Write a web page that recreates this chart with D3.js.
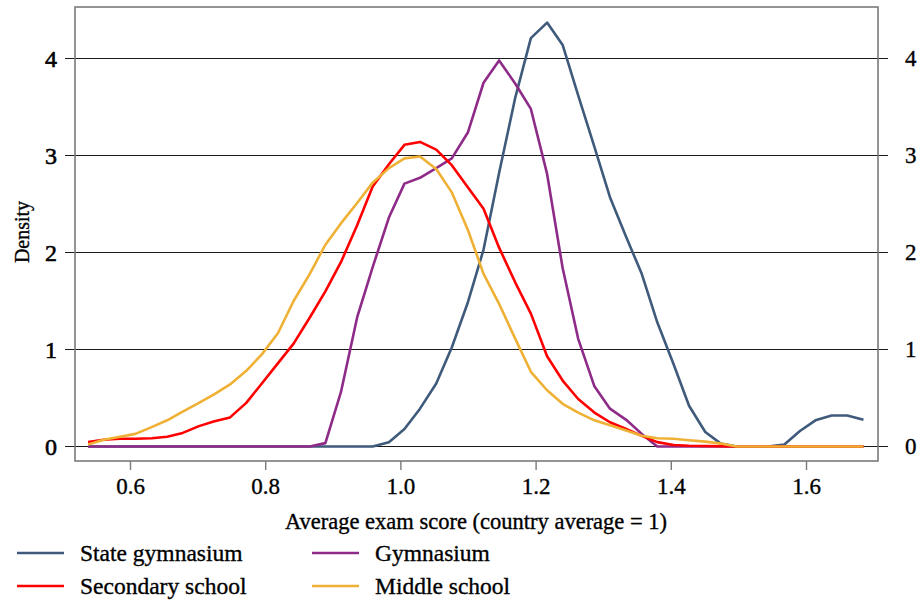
<!DOCTYPE html>
<html>
<head>
<meta charset="utf-8">
<script src="https://cdn.jsdelivr.net/npm/d3@7"></script>
<style>
  html, body { margin: 0; padding: 0; background: #fff; }
</style>
</head>
<body>
<svg id="chart" width="920" height="600"></svg>
<script>
// ---- data ----
const scores = [0.538,0.561,0.585,0.608,0.632,0.655,0.678,0.702,0.725,0.748,
  0.772,0.795,0.819,0.842,0.866,0.889,0.912,0.936,0.959,0.983,
  1.006,1.029,1.053,1.076,1.100,1.123,1.146,1.170,1.193,1.217,
  1.240,1.263,1.287,1.310,1.334,1.357,1.380,1.404,1.427,1.451,
  1.474,1.497,1.521,1.544,1.568,1.591,1.614,1.638,1.661,1.685];

const stateGymnasium = [0,0,0,0,0,0,0,0,0,0,
  0,0,0,0,0,0,0,0,0,0.045,
  0.18,0.39,0.65,1.02,1.49,2.03,2.82,3.60,4.21,4.37,
  4.14,3.62,3.09,2.57,2.16,1.78,1.28,0.85,0.42,0.15,
  0.03,0,0,0,0.02,0.16,0.27,0.32,0.32,0.275];

const gymnasium = [0,0,0,0,0,0,0,0,0,0,
  0,0,0,0,0,0.035,0.56,1.33,1.85,2.36,
  2.71,2.77,2.87,2.97,3.24,3.75,3.98,3.74,3.48,2.81,
  1.84,1.11,0.62,0.39,0.275,0.13,0,0,0,0,
  0,0,0,0,0,0,0,0,0,0];

const secondarySchool = [0.045,0.07,0.08,0.08,0.085,0.10,0.14,0.21,0.26,0.30,
  0.45,0.65,0.86,1.06,1.33,1.60,1.90,2.28,2.68,2.91,
  3.11,3.14,3.06,2.90,2.67,2.45,2.05,1.69,1.37,0.93,
  0.68,0.49,0.35,0.25,0.18,0.11,0.045,0.015,0.008,0.005,
  0.002,0,0,0,0,0,0,0,0,0];

const middleSchool = [0.02,0.07,0.10,0.13,0.20,0.27,0.36,0.45,0.54,0.64,
  0.78,0.95,1.17,1.50,1.78,2.08,2.30,2.51,2.72,2.87,
  2.97,2.99,2.86,2.62,2.23,1.78,1.47,1.11,0.77,0.58,
  0.44,0.35,0.27,0.22,0.165,0.11,0.085,0.08,0.065,0.05,
  0.03,0,0,0,0,0,0,0,0,0];

const seriesNames = ["State gymnasium", "Gymnasium", "Secondary school", "Middle school"];
const seriesColors = ["#3f5a7b", "#8e2b88", "#ff0000", "#efb135"];
const seriesValues = [stateGymnasium, gymnasium, secondarySchool, middleSchool];

const xTicks = [0.6, 0.8, 1.0, 1.2, 1.4, 1.6];
const yTicks = [0, 1, 2, 3, 4];
const xTitle = "Average exam score (country average = 1)";
const yTitle = "Density";

// ---- layout ----
const FONT = "'Liberation Serif', 'Times New Roman', Times, serif";
const svg = d3.select("#chart");
const plotLeft = 75, plotRight = 878, plotTop = 7, plotBottom = 461;

const x = d3.scaleLinear().domain([0.6, 1.6]).range([130, 806]);
const y = d3.scaleLinear().domain([0, 4]).range([446.5, 58.5]);

function styleText(sel, size) {
  sel.attr("font-size", size).attr("fill", "#000")
    .attr("stroke", "#000").attr("stroke-width", 0.35)
    .style("font-family", FONT);
}

// gridlines + left/right ticks
const grid = svg.append("g");
yTicks.forEach(t => {
  grid.append("line")
    .attr("x1", plotLeft - 10).attr("x2", plotRight + 10)
    .attr("y1", y(t)).attr("y2", y(t))
    .attr("stroke", "#1a1a1a").attr("stroke-width", 1);
});

// frame
svg.append("rect")
  .attr("x", plotLeft).attr("y", plotTop)
  .attr("width", plotRight - plotLeft).attr("height", plotBottom - plotTop)
  .attr("fill", "none").attr("stroke", "#7a7a7a").attr("stroke-width", 1.6);

// x axis
const xAxis = d3.axisBottom(x).tickValues(xTicks).tickFormat(d3.format(".1f")).tickSize(9).tickPadding(8);
const gx = svg.append("g").attr("transform", `translate(0,${plotBottom})`).call(xAxis);
gx.select(".domain").remove();
gx.selectAll(".tick line").attr("stroke", "#7a7a7a").attr("stroke-width", 1.4);
styleText(gx.selectAll(".tick text"), 23);

// left y axis labels
const yAxisL = d3.axisLeft(y).tickValues(yTicks).tickFormat(d3.format("d")).tickSize(0).tickPadding(18);
const gyl = svg.append("g").attr("transform", `translate(${plotLeft},0)`).call(yAxisL);
gyl.select(".domain").remove();
styleText(gyl.selectAll(".tick text"), 24);
gyl.selectAll(".tick text").attr("stroke-width", 0.6);

// right y axis labels
const yAxisR = d3.axisRight(y).tickValues(yTicks).tickFormat(d3.format("d")).tickSize(0).tickPadding(27);
const gyr = svg.append("g").attr("transform", `translate(${plotRight},0)`).call(yAxisR);
gyr.select(".domain").remove();
styleText(gyr.selectAll(".tick text"), 23);

// lines
const line = d3.line().x((d, i) => x(scores[i])).y(d => y(d));
seriesValues.forEach((vals, k) => {
  svg.append("path")
    .datum(vals)
    .attr("d", line)
    .attr("fill", "none")
    .attr("stroke", seriesColors[k])
    .attr("stroke-width", 2.6)
    .attr("stroke-linejoin", "round");
});

// axis titles
styleText(svg.append("text")
  .attr("x", 476).attr("y", 529)
  .attr("text-anchor", "middle")
  .text(xTitle), 22.5);

styleText(svg.append("text")
  .attr("transform", "translate(29,232) rotate(-90)")
  .attr("text-anchor", "middle")
  .text(yTitle), 20);

// legend
const legendPos = [[17, 553], [312, 553], [17, 586], [312, 586]];
seriesNames.forEach((name, k) => {
  const [lx, ly] = legendPos[k];
  svg.append("line")
    .attr("x1", lx).attr("x2", lx + 47)
    .attr("y1", ly).attr("y2", ly)
    .attr("stroke", seriesColors[k]).attr("stroke-width", 2.6);
  styleText(svg.append("text")
    .attr("x", lx + 63).attr("y", ly + 8)
    .text(name), 23.5);
});
</script>
</body>
</html>
